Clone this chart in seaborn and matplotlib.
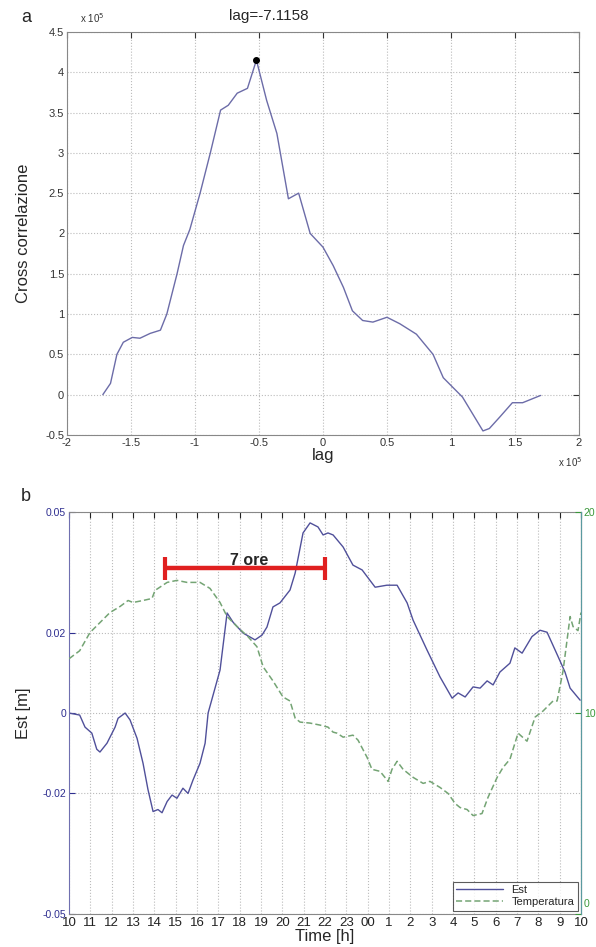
import matplotlib
matplotlib.use("Agg")
import matplotlib.pyplot as plt
import seaborn as sns
import numpy as np

# panel a: cross correlation (both axes in units of 1e5)
lag = [-1.72, -1.66, -1.61, -1.56, -1.49, -1.43, -1.35, -1.27, -1.22, -1.14, -1.09,
       -1.04, -0.96, -0.88, -0.80, -0.74, -0.67, -0.59, -0.57, -0.52, -0.44, -0.36,
       -0.27, -0.19, -0.10, 0.0, 0.08, 0.16, 0.23, 0.31, 0.39, 0.5, 0.6, 0.73, 0.86,
       0.94, 0.99, 1.09, 1.17, 1.25, 1.3, 1.38, 1.48, 1.56, 1.70]
xcorr = [0.0, 0.14, 0.5, 0.65, 0.71, 0.70, 0.76, 0.80, 1.0, 1.5, 1.85,
         2.05, 2.5, 3.0, 3.53, 3.59, 3.74, 3.8, 3.9, 4.15, 3.65, 3.24,
         2.43, 2.5, 2.0, 1.83, 1.6, 1.33, 1.04, 0.92, 0.9, 0.96, 0.88, 0.75, 0.5,
         0.21, 0.13, -0.03, -0.24, -0.45, -0.42, -0.28, -0.1, -0.1, -0.01]
peak_lag, peak_val = -0.52, 4.15

# panel b: Est displacement [m] and temperature, hours from 10:00
est_h = [0, 0.5, 0.75, 1.07, 1.3, 1.45, 1.78, 2.16, 2.3, 2.63, 2.86, 3.19, 3.47, 3.7,
         3.94, 4.17, 4.36, 4.6, 4.83, 5.06, 5.34, 5.58, 5.81, 6.14, 6.38, 6.52, 7.08,
         7.41, 7.69, 8.16, 8.72, 9.05, 9.28, 9.56, 9.89, 10.36, 10.6, 10.83, 10.97,
         11.3, 11.67, 11.91, 12.14, 12.38, 12.85, 13.31, 13.74, 14.35, 14.9, 15.38,
         15.85, 16.13, 16.78, 17.39, 17.96, 18.24, 18.57, 18.94, 19.27, 19.6, 19.88,
         20.2, 20.67, 20.9, 21.24, 21.7, 22.08, 22.41, 22.93, 23.25, 23.49, 23.96]
est_v = [0.0, -0.0005, -0.0035, -0.005, -0.009, -0.0097, -0.0075, -0.0035, -0.0013,
         0.0, -0.0017, -0.0063, -0.0125, -0.019, -0.0245, -0.024, -0.0248, -0.022,
         -0.0204, -0.0212, -0.0187, -0.02, -0.0167, -0.0125, -0.0075, 0.0, 0.0107,
         0.0249, 0.0226, 0.0199, 0.0182, 0.0194, 0.0214, 0.0264, 0.0274, 0.0306,
         0.0348, 0.0410, 0.0448, 0.0473, 0.0463, 0.0443, 0.0448, 0.0443, 0.0413,
         0.0368, 0.0356, 0.0313, 0.0318, 0.0318, 0.0274, 0.0231, 0.0157, 0.009,
         0.0037, 0.005, 0.004, 0.0065, 0.0062, 0.008, 0.007, 0.0102, 0.0124, 0.0162,
         0.0149, 0.019, 0.0206, 0.0201, 0.014, 0.0102, 0.0062, 0.0032]
temp_h = [0, 0.5, 0.98, 1.45, 1.92, 2.39, 2.77, 3.0, 3.47, 3.89, 4.03, 4.6, 5.06, 5.53,
          6.14, 6.61, 7.08, 7.41, 7.88, 8.39, 8.81, 9.1, 9.56, 10.03, 10.36, 10.6,
          10.83, 11.3, 11.77, 12.14, 12.38, 12.56, 12.85, 13.31, 13.55, 13.97, 14.2,
          14.58, 14.96, 15.14, 15.38, 15.66, 16.13, 16.6, 16.92, 17.39, 17.77, 18.1,
          18.33, 18.66, 18.94, 19.36, 19.64, 20.07, 20.35, 20.67, 21.05, 21.47, 21.85,
          22.22, 22.69, 22.88, 23.16, 23.49, 23.63, 23.86, 24]
temp_v = [12.7, 13.1, 14.0, 14.5, 15.0, 15.3, 15.6, 15.5, 15.6, 15.7, 16.1, 16.5, 16.6,
          16.5, 16.5, 16.2, 15.5, 14.8, 14.3, 13.8, 13.3, 12.3, 11.6, 10.8, 10.6, 9.75,
          9.55, 9.5, 9.4, 9.3, 9.05, 9.0, 8.8, 8.9, 8.65, 7.8, 7.2, 7.1, 6.6, 7.2, 7.6,
          7.2, 6.8, 6.5, 6.6, 6.3, 6.0, 5.5, 5.3, 5.2, 4.9, 5.0, 5.8, 6.8, 7.3, 7.7,
          9.0, 8.6, 9.8, 10.1, 10.6, 10.6, 12.1, 14.8, 14.3, 14.1, 15.0]
hour_labels = ["10", "11", "12", "13", "14", "15", "16", "17", "18", "19", "20", "21",
               "22", "23", "00", "1", "2", "3", "4", "5", "6", "7", "8", "9", "10"]
span_start, span_end, span_y = 4.5, 12.0, 0.036

sns.set_style("white")
plt.rcParams["font.family"] = ["Liberation Sans", "DejaVu Sans"]

fig = plt.figure(figsize=(5.96, 9.47), dpi=100)
ax1 = fig.add_axes([0.1124, 0.5407, 0.859, 0.4256])
ax2 = fig.add_axes([0.1158, 0.0348, 0.859, 0.4245])

grid_kw = dict(color="#bbbbbb", linestyle=":", linewidth=0.8)

# ---- panel a
sns.lineplot(x=lag, y=xcorr, ax=ax1, color="#6c6ca8", linewidth=1.0, sort=False)
ax1.plot([peak_lag], [peak_val], "o", color="black", markersize=4)
ax1.text(peak_lag + 0.1, 4.61, "lag=-7.1158", ha="center", va="bottom", fontsize=11,
         clip_on=False)
ax1.set_xlim(-2, 2)
ax1.set_ylim(-0.5, 4.5)
ax1.set_xticks(np.arange(-2, 2.01, 0.5))
ax1.set_xticklabels(["-2", "-1.5", "-1", "-0.5", "0", "0.5", "1", "1.5", "2"])
ax1.set_yticks(np.arange(-0.5, 4.51, 0.5))
ax1.set_yticklabels(["-0.5", "0", "0.5", "1", "1.5", "2", "2.5", "3", "3.5", "4", "4.5"])
ax1.grid(True, **grid_kw)
ax1.tick_params(direction="in", length=4, top=True, right=True, labelsize=8,
                colors="#333333", pad=2)
ax1.set_xlabel("lag", fontsize=12, labelpad=0)
ax1.set_ylabel("Cross correlazione", fontsize=12, labelpad=10)
for s in ax1.spines.values():
    s.set_color("#888888")
fig.text(0.134, 0.981, r"x 10$^5$", fontsize=7, color="#333333", ha="left", va="center")
fig.text(0.956, 0.512, r"x 10$^5$", fontsize=7, color="#333333", ha="center", va="center")
fig.text(0.035, 0.981, "a", fontsize=13, ha="left", va="center")

# ---- panel b
ax3 = ax2.twinx()
sns.lineplot(x=est_h, y=est_v, ax=ax2, color="#50509a", linewidth=1.0, sort=False,
             label="Est", legend=False)
sns.lineplot(x=temp_h, y=temp_v, ax=ax3, color="#74a474", linewidth=1.1, sort=False,
             label="Temperatura", legend=False)
ax3.lines[0].set_linestyle((0, (4, 2)))

ax2.set_xlim(0, 24)
ax2.set_ylim(-0.05, 0.05)
ax3.set_ylim(0, 20)
ax2.set_xticks(range(25))
ax2.set_xticklabels(hour_labels)
ax2.set_yticks([-0.05, -0.02, 0, 0.02, 0.05])
ax2.set_yticklabels(["-0.05", "-0.02", "0", "0.02", "0.05"])
ax3.set_yticks([0, 10, 20])
ax3.set_yticklabels(["", "10", "20"])
ax2.grid(True, **grid_kw)
ax2.tick_params(axis="x", direction="in", length=4, top=True, labelsize=9.5,
                colors="#222222", pad=2)
ax2.tick_params(axis="y", direction="in", length=4, labelsize=7.5, colors="#2e2e90", pad=2)
ax3.tick_params(axis="y", direction="in", length=4, labelsize=7.5, colors="#3a983a", pad=2)
ax3.text(1.006, 0.012, "0", transform=ax3.transAxes, fontsize=7.5, color="#3a983a",
         ha="left", va="bottom")
ax2.set_xlabel("Time [h]", fontsize=12, labelpad=0)
ax2.set_ylabel("Est [m]", fontsize=12, labelpad=8)
for s in ["top", "bottom"]:
    ax2.spines[s].set_color("#888888")
ax2.spines["left"].set_color("#7070b0")
ax3.spines["right"].set_color("#5a9aa0")
for s in ["top", "bottom", "left"]:
    ax3.spines[s].set_visible(False)

# 7 ore span marker
ax2.plot([span_start, span_end], [span_y, span_y], color="#e02020", linewidth=3.2,
         solid_capstyle="butt", zorder=5)
for xv in [span_start, span_end]:
    ax2.plot([xv, xv], [span_y - 0.0028, span_y + 0.0028], color="#e02020",
             linewidth=3, solid_capstyle="butt", zorder=5)
ax2.text((span_start + span_end) / 2 + 0.2, span_y + 0.0002, "7 ore", fontsize=11.5,
         fontweight="bold", ha="center", va="bottom", zorder=6)

handles = ax2.get_lines()[:1] + ax3.get_lines()[:1]
leg = ax3.legend(handles, ["Est", "Temperatura"], loc="lower right", fontsize=8,
                 frameon=True, fancybox=False, edgecolor="#333333", borderpad=0.3,
                 handlelength=4.2, labelspacing=0.2, borderaxespad=0.3)
leg.get_frame().set_linewidth(0.8)
fig.text(0.035, 0.476, "b", fontsize=13, ha="left", va="center")

fig.savefig("out.png", dpi=100)
